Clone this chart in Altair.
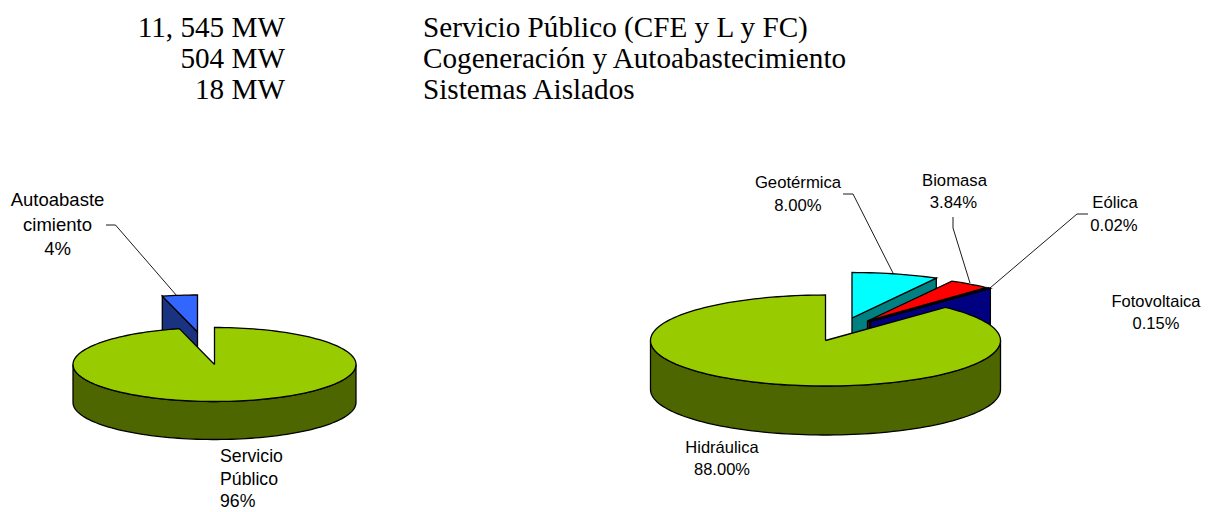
import math
import altair as alt
import pandas as pd

# ---- values ----
left_names = ["Servicio Público", "Autoabastecimiento"]
left_values = [96, 4]
right_names = ["Geotérmica", "Biomasa", "Eólica", "Fotovoltaica", "Hidráulica"]
right_values = [8.00, 3.84, 0.02, 0.15, 88.00]

header_mw = ["11, 545 MW", "504 MW", "18 MW"]
header_desc = ["Servicio Público (CFE y L y FC)",
               "Cogeneración y Autoabastecimiento",
               "Sistemas Aislados"]

# ---- layout (in picture pixels) ----
W, H = 1196, 504
X0, Y0 = 8, 8
x_scale = alt.Scale(domain=[X0, X0 + W], range=[0, W], nice=False, zero=False)
y_scale = alt.Scale(domain=[Y0, Y0 + H], range=[0, H], nice=False, zero=False)

def ell(cx, cy, rx, ry, deg):
    t = math.radians(deg)
    return cx + rx * math.sin(t), cy - ry * math.cos(t)

def arc_pts(cx, cy, rx, ry, a, b, n=None):
    n = n or max(2, int(abs(b - a) / 2) + 2)
    return [ell(cx, cy, rx, ry, a + (b - a) * i / (n - 1)) for i in range(n)]

def darker(c):
    r, g, b = int(c[1:3], 16), int(c[3:5], 16), int(c[5:7], 16)
    return "#%02X%02X%02X" % ((r + 1) // 2, (g + 1) // 2, (b + 1) // 2)

faces = []  # (points, colour) painted back to front

def add_pie(values, colours, offsets, c, r, depth, order):
    cx, cy = c
    rx, ry = r
    start = 0.0
    spans = []
    for v in values:
        spans.append((start, min(360.0, start + v * 360.0 / 100.0)))
        start += v * 360.0 / 100.0
    for i in order:
        a, b = spans[i]
        ox, oy = offsets[i]
        tx, ty = cx + ox, cy + oy
        col = colours[i]
        side = darker(col)
        # cut face visible from the front
        if b < 180:
            p = ell(tx, ty, rx, ry, b)
            faces.append(([(tx, ty), p, (p[0], p[1] + depth), (tx, ty + depth)], side))
        if a > 180:
            p = ell(tx, ty, rx, ry, a)
            faces.append(([(tx, ty), p, (p[0], p[1] + depth), (tx, ty + depth)], side))
        # outer wall, front half only
        wa, wb = max(a, 90), min(b, 270)
        if wb > wa:
            top = arc_pts(tx, ty, rx, ry, wa, wb)
            low = [(x, y + depth) for x, y in reversed(top)]
            faces.append((top + low, side))
        # top face
        faces.append(([(tx, ty)] + arc_pts(tx, ty, rx, ry, a, b), col))

add_pie([left_values[0], left_values[1]], ["#99CC00", "#3366FF"],
        [(0, 0), (-17, -32.5)], (214.5, 364.5), (141.5, 37), 38, [1, 0])
add_pie(right_values, ["#00FFFF", "#FF0000", "#663300", "#0000FF", "#99CC00"],
        [(26.5, -22.5), (42, -19.5), (44, -19.2), (45, -19), (0, 0)],
        (825.5, 340.5), (175, 45.5), 49, [0, 1, 2, 3, 4])

X = alt.X("x:Q", scale=x_scale, axis=None)
Y = alt.Y("y:Q", scale=y_scale, axis=None)

layers = []
for pts, col in faces:
    closed = pts + [pts[0]]
    df = pd.DataFrame({"x": [p[0] for p in closed], "y": [p[1] for p in closed],
                       "i": list(range(len(closed)))})
    layers.append(
        alt.Chart(df).mark_line(fill=col, stroke="#000000", strokeWidth=1.3,
                                strokeJoin="miter", clip=False)
        .encode(x=X, y=Y, order="i:Q"))

# leader lines
leaders = [
    [(106, 225), (115.5, 225), (177, 296)],
    [(843, 194), (853, 194), (893, 273)],
    [(953, 217), (953, 228), (970, 283)],
    [(990, 288), (1077, 214), (1088, 214)],
]
for pts in leaders:
    df = pd.DataFrame({"x": [p[0] for p in pts], "y": [p[1] for p in pts],
                       "i": list(range(len(pts)))})
    layers.append(
        alt.Chart(df).mark_line(stroke="#000000", strokeWidth=0.9)
        .encode(x=X, y=Y, order="i:Q"))

# pie labels
def pct(v, d):
    return f"{v:.{d}f}%"

labels = [
    ("Autoabaste", 57.5, 206, "center", 18.5), ("cimiento", 57.5, 231, "center", 18.5),
    (pct(left_values[1], 0), 57.5, 255, "center", 18.5),
    ("Servicio", 220, 462, "left", 17.7), ("Público", 220, 485, "left", 17.7),
    (pct(left_values[0], 0), 220, 507, "left", 17.7),
    (right_names[0], 798, 188, "center", 16.7), (pct(right_values[0], 2), 798, 211, "center", 16.7),
    (right_names[1], 954.5, 186, "center", 16.7), (pct(right_values[1], 2), 953.5, 208, "center", 16.7),
    (right_names[2], 1115, 208, "center", 16.7), (pct(right_values[2], 2), 1114, 231, "center", 16.7),
    (right_names[3], 1156, 307, "center", 16.5), (pct(right_values[3], 2), 1156, 329, "center", 16.5),
    (right_names[4], 722, 453, "center", 16.5), (pct(right_values[4], 2), 722, 475, "center", 16.5),
]
for align in ("left", "center"):
    df = pd.DataFrame([l for l in labels if l[3] == align], columns=["t", "x", "y", "a", "s"])
    layers.append(
        alt.Chart(df).mark_text(font="Liberation Sans", align=align,
                                baseline="alphabetic", color="#000000")
        .encode(x=X, y=Y, text="t:N", size=alt.Size("s:Q", scale=None)))

# header text
hy = [37, 68, 99]
df = pd.DataFrame({"t": header_mw, "x": [285] * 3, "y": hy})
layers.append(alt.Chart(df).mark_text(font="Liberation Serif", fontSize=29.2, align="right",
                                      baseline="alphabetic", color="#000000")
              .encode(x=X, y=Y, text="t:N"))
df = pd.DataFrame({"t": header_desc, "x": [423] * 3, "y": hy})
layers.append(alt.Chart(df).mark_text(font="Liberation Serif", fontSize=29.2, align="left",
                                      baseline="alphabetic", color="#000000")
              .encode(x=X, y=Y, text="t:N"))

chart = alt.layer(*layers).properties(
    width=W, height=H, padding=0, autosize=alt.AutoSizeParams(type="none"), background="#ffffff",
).configure_view(stroke=None)

chart.save("out.html", embed_options={"renderer": "svg", "actions": False})
